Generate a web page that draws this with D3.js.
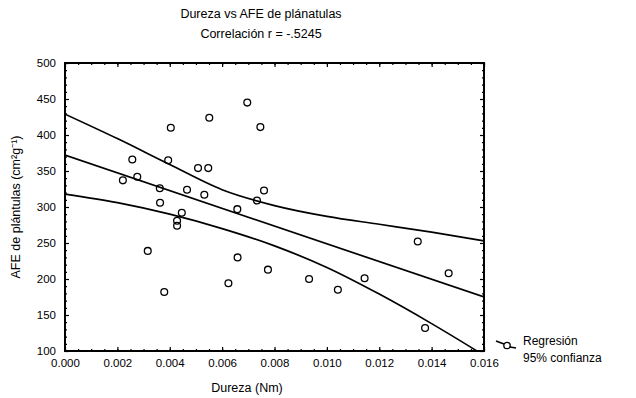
<!DOCTYPE html>
<html>
<head>
<meta charset="utf-8">
<script src="https://cdn.jsdelivr.net/npm/d3@7"></script>
<style>
  body { margin: 0; background: #fff; }
  text { font-family: "Liberation Sans", Arial, sans-serif; fill: #000; }
</style>
</head>
<body>
<script>
// scatter points: dureza (Nm), AFE (cm2 g-1)
var dureza = [0.00696, 0.00551, 0.00404, 0.00746, 0.00257, 0.00394, 0.00508, 0.00547,
  0.00221, 0.00276, 0.00362, 0.00466, 0.00760, 0.00532, 0.00733, 0.00363, 0.00658,
  0.00446, 0.00428, 0.00428, 0.00316, 0.00659, 0.00775, 0.00624, 0.00932, 0.01042,
  0.00379, 0.01347, 0.01465, 0.01144, 0.01375];
var afe = [445, 424, 410, 411, 366, 365, 354, 354,
  337, 342, 326, 324, 323, 317, 309, 306, 297,
  292, 281, 274, 239, 230, 213, 194, 200, 185,
  182, 252, 208, 201, 132];

// regression line and 95% bands
var regX = [0, 0.016];
var regY = [372, 175];
var bandX = [0, 0.002, 0.004, 0.006, 0.008, 0.010, 0.012, 0.014, 0.016];
var upperBand = [429, 395, 359, 324, 302, 287, 276, 265, 253];
var lowerBand = [318, 306, 290, 270, 246, 216, 179, 138, 94];

var xTicks = [0, 0.002, 0.004, 0.006, 0.008, 0.010, 0.012, 0.014, 0.016];
var yTicks = [100, 150, 200, 250, 300, 350, 400, 450, 500];

var W = 636, H = 398;
var margin = {top: 63, right: 152, bottom: 47, left: 65};
var width = W - margin.left - margin.right,
    height = H - margin.top - margin.bottom;

var svg = d3.select("body").append("svg")
    .attr("width", W)
    .attr("height", H);

var x = d3.scaleLinear().domain([0, 0.016]).range([0, width]);
var y = d3.scaleLinear().domain([100, 500]).range([height, 0]);

var g = svg.append("g")
    .attr("transform", "translate(" + margin.left + "," + margin.top + ")");

g.append("clipPath").attr("id", "clip")
  .append("rect").attr("width", width).attr("height", height);

// inner minor ticks on all four sides
var minorX = d3.range(0, 0.0161, 0.0005), minorY = d3.range(100, 501, 10);
g.append("g")
    .attr("transform", "translate(0," + height + ")")
    .call(d3.axisBottom(x).tickValues(minorX).tickSize(-2).tickFormat(""));
g.append("g")
    .call(d3.axisTop(x).tickValues(minorX).tickSize(-2).tickFormat(""));
g.append("g").call(d3.axisLeft(y).tickValues(minorY).tickSize(-2).tickFormat(""));
g.append("g").attr("transform", "translate(" + width + ",0)")
    .call(d3.axisRight(y).tickValues(minorY).tickSize(-2).tickFormat(""));

// major ticks and labels
g.append("g")
    .attr("transform", "translate(0," + height + ")")
    .call(d3.axisBottom(x).tickValues(xTicks).tickSize(-4).tickPadding(8)
      .tickFormat(d3.format(".3f")));
g.append("g")
    .call(d3.axisLeft(y).tickValues(yTicks).tickSize(-4).tickPadding(9)
      .tickFormat(d3.format("d")));
g.append("g")
    .call(d3.axisTop(x).tickValues(xTicks).tickSize(-4).tickFormat(""));
g.append("g").attr("transform", "translate(" + width + ",0)")
    .call(d3.axisRight(y).tickValues(yTicks).tickSize(-4).tickFormat(""));

g.selectAll(".domain").attr("stroke", "none");
g.selectAll(".tick line").attr("stroke", "#000").attr("stroke-width", 1.2);
g.selectAll(".tick text").style("font-size", "11.5px").style("font-family", "Liberation Sans, Arial, sans-serif");

g.append("rect")
    .attr("width", width).attr("height", height)
    .attr("fill", "none").attr("stroke", "#000").attr("stroke-width", 2);

var plot = g.append("g").attr("clip-path", "url(#clip)");

var bandLine = d3.line()
    .x(function(d) { return x(d[0]); })
    .y(function(d) { return y(d[1]); })
    .curve(d3.curveMonotoneX);

plot.append("path")
    .datum(d3.zip(bandX, upperBand))
    .attr("d", bandLine)
    .attr("fill", "none").attr("stroke", "#000").attr("stroke-width", 1.7);
plot.append("path")
    .datum(d3.zip(bandX, lowerBand))
    .attr("d", bandLine)
    .attr("fill", "none").attr("stroke", "#000").attr("stroke-width", 1.7);
plot.append("path")
    .datum(d3.zip(regX, regY))
    .attr("d", d3.line().x(function(d) { return x(d[0]); }).y(function(d) { return y(d[1]); }))
    .attr("fill", "none").attr("stroke", "#000").attr("stroke-width", 1.7);

plot.selectAll(".pt")
    .data(d3.zip(dureza, afe))
  .enter().append("circle")
    .attr("class", "pt")
    .attr("cx", function(d) { return x(d[0]); })
    .attr("cy", function(d) { return y(d[1]); })
    .attr("r", 3.4)
    .attr("fill", "none")
    .attr("stroke", "#000")
    .attr("stroke-width", 1.3);

// titles
svg.append("text")
    .attr("x", 261).attr("y", 18)
    .attr("text-anchor", "middle")
    .style("font-size", "12.5px")
    .text("Dureza vs  AFE de plánatulas");
svg.append("text")
    .attr("x", 261).attr("y", 38)
    .attr("text-anchor", "middle")
    .style("font-size", "12.5px")
    .text("Correlación  r = -.5245");

// axis titles
svg.append("text")
    .attr("x", 247).attr("y", 392)
    .attr("text-anchor", "middle")
    .style("font-size", "12.5px")
    .text("Dureza (Nm)");
svg.append("text")
    .attr("transform", "translate(20," + (margin.top + height / 2) + ") rotate(-90)")
    .attr("text-anchor", "middle")
    .style("font-size", "12.5px")
    .text("AFE de plántulas (cm²g⁻¹)");

// legend: line with circle marker
var lg = svg.append("g").attr("transform", "translate(496,340)");
lg.append("line").attr("x1", 0).attr("y1", 1).attr("x2", 8).attr("y2", 4)
    .attr("stroke", "#000").attr("stroke-width", 1.6);
lg.append("line").attr("x1", 14).attr("y1", 7).attr("x2", 20).attr("y2", 8)
    .attr("stroke", "#000").attr("stroke-width", 1.6);
lg.append("circle").attr("cx", 11).attr("cy", 5.5).attr("r", 3.2)
    .attr("fill", "none").attr("stroke", "#000").attr("stroke-width", 1.3);
lg.append("text").attr("x", 27).attr("y", 5).style("font-size", "12px").text("Regresión");
lg.append("text").attr("x", 27).attr("y", 22).style("font-size", "12px").text("95% confianza");
</script>
</body>
</html>
